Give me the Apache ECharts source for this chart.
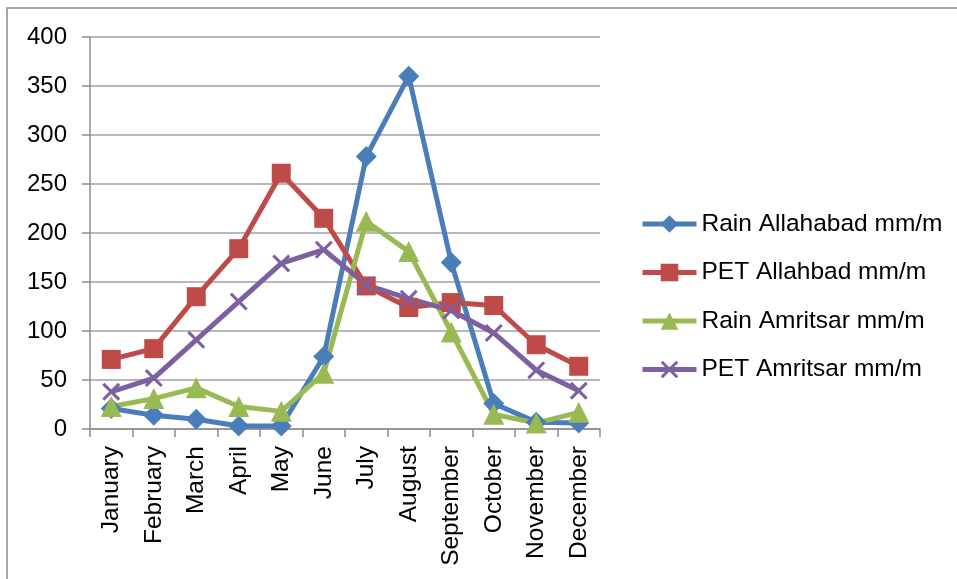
<!DOCTYPE html>
<html>
<head>
<meta charset="utf-8">
<script src="https://cdn.jsdelivr.net/npm/echarts@6/dist/echarts.min.js"></script>
<style>
html,body{margin:0;padding:0;background:#fff;}
#chart{width:957px;height:579px;}
</style>
</head>
<body>
<div id="chart"></div>
<script>
const months = ['January','February','March','April','May','June','July','August','September','October','November','December'];
const rainAllahabad = [21, 14, 10, 3, 3, 74, 278, 360, 170, 26, 7, 6];
const petAllahabad = [71, 82, 135, 184, 261, 215, 146, 124, 129, 126, 86, 64];
const rainAmritsar = [23, 31, 42, 23, 18, 57, 212, 181, 99, 15, 6, 17];
const petAmritsar = [38, 52, 91, 130, 169, 183, 147, 133, 121, 98, 60, 39];
const seriesNames = ['Rain Allahabad mm/m','PET Allahbad mm/m','Rain Amritsar mm/m','PET Amritsar mm/m'];

const FONT = '"Liberation Sans", Arial, sans-serif';
const crossPath = 'path://M0,1.2L1.2,0L5,3.8L8.8,0L10,1.2L6.2,5L10,8.8L8.8,10L5,6.2L1.2,10L0,8.8L3.8,5Z';

function mk(name, data, color, symbol, size) {
  return {
    name: name, type: 'line', data: data,
    symbol: symbol, symbolSize: size, showSymbol: true,
    lineStyle: {color: color, width: 5},
    itemStyle: {color: color},
    emphasis: {disabled: true},
    animation: false
  };
}

const chart = echarts.init(document.getElementById('chart'));
chart.setOption({
  backgroundColor: '#fff',
  animation: false,
  graphic: [{
    type: 'rect', shape: {x: 7, y: 8, width: 1000, height: 1000},
    style: {fill: 'none', stroke: '#8c8c8c', lineWidth: 1.5}, silent: true
  }],
  grid: {left: 90, right: 357, top: 37, bottom: 150, containLabel: false},
  legend: {
    orient: 'vertical', left: 635, top: 206,
    itemWidth: 54, itemHeight: 22, itemGap: 22.5,
    lineStyle: {width: 5},
    textStyle: {fontFamily: FONT, fontSize: 24.5, color: '#000', lineHeight: 26},
    data: seriesNames
  },
  xAxis: {
    type: 'category', data: months, boundaryGap: true,
    axisLine: {lineStyle: {color: '#8c8c8c', width: 1.5}},
    axisTick: {show: true, interval: 0, length: 8, lineStyle: {color: '#8c8c8c', width: 1.5}},
    axisLabel: {interval: 0, rotate: 90, margin: 17, fontFamily: FONT, fontSize: 24.5, color: '#000'},
    splitLine: {show: false}
  },
  yAxis: {
    type: 'value', min: 0, max: 400, interval: 50,
    axisLine: {show: true, lineStyle: {color: '#8c8c8c', width: 1.5}},
    axisTick: {show: true, length: 8, inside: false, lineStyle: {color: '#8c8c8c', width: 1.5}},
    axisLabel: {margin: 23, fontFamily: FONT, fontSize: 24, color: '#000'},
    splitLine: {show: true, lineStyle: {color: '#a0a0a0', width: 1.5}}
  },
  series: [
    mk(seriesNames[0], rainAllahabad, '#4a7ebb', 'diamond', 21),
    mk(seriesNames[1], petAllahabad, '#be4b48', 'rect', 19),
    mk(seriesNames[2], rainAmritsar, '#98b954', 'triangle', 21),
    mk(seriesNames[3], petAmritsar, '#7d60a0', crossPath, 18)
  ]
});
</script>
</body>
</html>
